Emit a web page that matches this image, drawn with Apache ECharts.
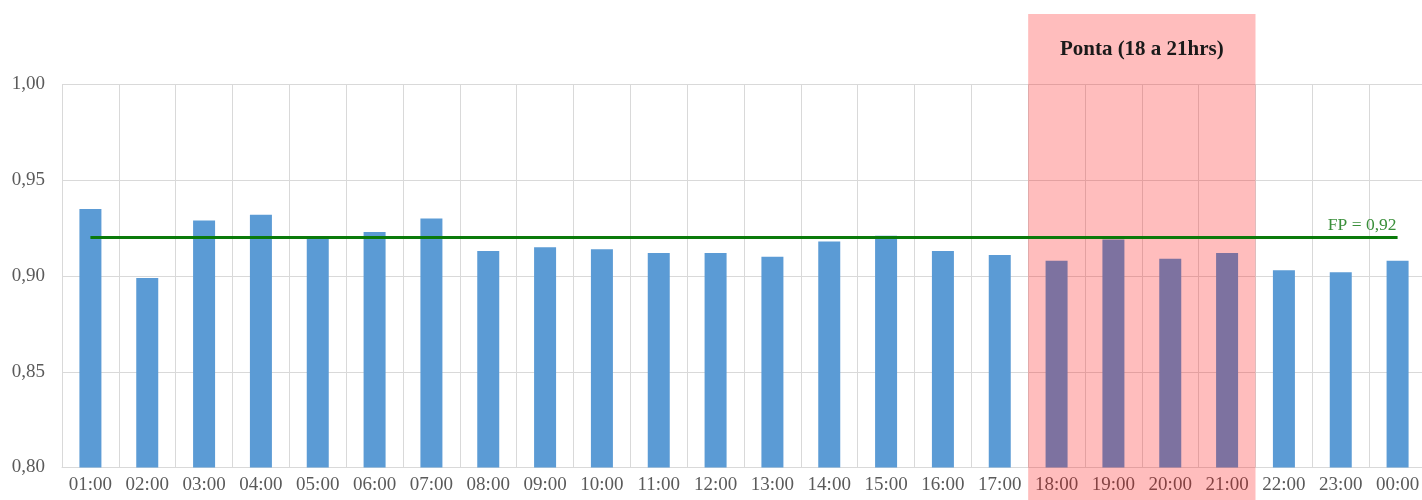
<!DOCTYPE html>
<html>
<head>
<meta charset="utf-8">
<script src="https://cdn.jsdelivr.net/npm/echarts@6/dist/echarts.min.js"></script>
<style>html,body{margin:0;padding:0;background:#fff;overflow:hidden;width:1422px;height:500px;}#c{width:1426px;height:500px;}</style>
</head>
<body>
<div id="c"></div>
<script>
const categories = ['01:00','02:00','03:00','04:00','05:00','06:00','07:00','08:00','09:00','10:00','11:00','12:00','13:00','14:00','15:00','16:00','17:00','18:00','19:00','20:00','21:00','22:00','23:00','00:00'];
const fpValues = [0.935,0.899,0.929,0.932,0.920,0.923,0.930,0.913,0.915,0.914,0.912,0.912,0.910,0.918,0.921,0.913,0.911,0.908,0.919,0.909,0.912,0.903,0.902,0.908];
const peakHours = ['18:00','19:00','20:00','21:00'];
const fpTarget = 0.92;
const fpLabel = 'FP = 0,92';
const peakTitle = 'Ponta (18 a 21hrs)';
const yTicks = [0.80, 0.85, 0.90, 0.95, 1.00];

const FONT = '"Liberation Serif", "Times New Roman", serif';
const chart = echarts.init(document.getElementById('c'));
const isPeak = c => peakHours.indexOf(c) >= 0;

chart.setOption({
  animation: false,
  grid: { left: 62, right: 0, top: 84.5, bottom: 32.5, containLabel: false },
  xAxis: {
    type: 'category',
    data: categories,
    axisLine: { show: true, lineStyle: { color: '#d9d9d9' } },
    axisTick: { show: false },
    splitLine: { show: true, lineStyle: { color: '#d9d9d9', width: 1 } },
    axisLabel: { fontFamily: FONT, fontSize: 19, color: '#5a5a5a', margin: 8, interval: 0 }
  },
  yAxis: {
    type: 'value',
    min: yTicks[0], max: yTicks[yTicks.length - 1], interval: 0.05,
    axisLine: { show: false },
    axisTick: { show: false },
    splitLine: { lineStyle: { color: '#d9d9d9', width: 1 } },
    axisLabel: { fontFamily: FONT, fontSize: 19, color: '#5a5a5a', margin: 17,
      formatter: v => v.toFixed(2).replace('.', ',') }
  },
  series: [{
    type: 'bar',
    barWidth: 22,
    z: 2,
    data: fpValues.map((v, i) => ({
      value: v,
      itemStyle: { color: isPeak(categories[i]) ? '#7d72a0' : '#5b9bd5' }
    })),
    markLine: {
      symbol: 'none',
      silent: true,
      z: 4,
      lineStyle: { color: '#0a7a0a', width: 3, type: 'solid' },
      label: {
        show: true, position: 'insideEndTop', formatter: fpLabel,
        fontFamily: FONT, fontSize: 17.5, color: '#3a8f3a', distance: [1, 3]
      },
      data: [[
        { xAxis: categories[0], yAxis: fpTarget },
        { xAxis: categories[categories.length - 1], yAxis: fpTarget }
      ]]
    }
  }]
});

function drawPeak() {
  const x0 = chart.convertToPixel({ xAxisIndex: 0 }, peakHours[0]);
  const x1 = chart.convertToPixel({ xAxisIndex: 0 }, peakHours[peakHours.length - 1]);
  const half = (chart.convertToPixel({ xAxisIndex: 0 }, categories[1]) - chart.convertToPixel({ xAxisIndex: 0 }, categories[0])) / 2;
  const left = x0 - half, right = x1 + half;
  const topY = 14;
  chart.setOption({
    graphic: [
      { type: 'rect', z: 1, silent: true,
        shape: { x: left, y: topY, width: right - left, height: 500 - topY },
        style: { fill: 'rgba(255,0,0,0.26)' } },
      { type: 'text', z: 5, silent: true,
        x: (left + right) / 2, y: 50,
        style: { text: peakTitle, fontFamily: FONT, fontSize: 21, fontWeight: 'bold',
          fill: '#1a1a1a', align: 'center', verticalAlign: 'middle' } }
    ]
  });
}
drawPeak();
</script>
</body>
</html>
